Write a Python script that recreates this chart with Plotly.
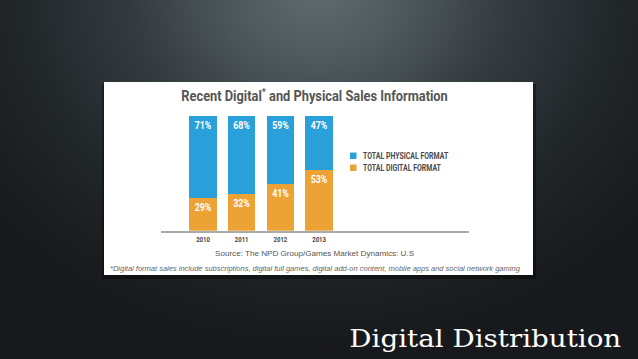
import base64
import plotly.graph_objects as go

W, H = 638, 359

years = ["2010", "2011", "2012", "2013"]
digital = [29, 32, 41, 53]
physical = [71, 68, 59, 47]
series_names = ["TOTAL PHYSICAL FORMAT", "TOTAL DIGITAL FORMAT"]
blue = "#2aa0da"
orange = "#eda236"

COND = "Roboto, Liberation Sans Narrow, DejaVu Sans Condensed, sans-serif"

def px(x):
    return x / W

def py(y):
    return 1 - y / H

x_idx = list(range(len(years)))

fig = go.Figure()
fig.add_trace(go.Bar(
    x=x_idx, y=digital, name=series_names[1], marker=dict(color=orange, line=dict(width=0)),
    text=[f"{v}%" for v in digital], textposition="inside", insidetextanchor="end",
    textangle=0, constraintext="none",
    textfont=dict(family=COND, size=11, color="white", weight="bold"),
    width=0.71, showlegend=False, hoverinfo="skip",
))
fig.add_trace(go.Bar(
    x=x_idx, y=physical, name=series_names[0], marker=dict(color=blue, line=dict(width=0)),
    text=[f"{v}%" for v in physical], textposition="inside", insidetextanchor="end",
    textangle=0, constraintext="none",
    textfont=dict(family=COND, size=11, color="white", weight="bold"),
    width=0.71, showlegend=False, hoverinfo="skip",
))

# background gradient (SVG data URI)
svg = f'''<svg xmlns="http://www.w3.org/2000/svg" width="{W}" height="{H}">
<defs><radialGradient id="g" gradientUnits="userSpaceOnUse" cx="319" cy="-10" r="420"
 gradientTransform="translate(319 -10) scale(1.0 0.85) translate(-319 10)">
<stop offset="0" stop-color="#606b6f"/>
<stop offset="0.2" stop-color="#4f595d"/>
<stop offset="0.45" stop-color="#343b3f"/>
<stop offset="0.7" stop-color="#22272a"/>
<stop offset="1" stop-color="#17191c"/>
</radialGradient></defs>
<rect width="{W}" height="{H}" fill="url(#g)"/>
</svg>'''
src = "data:image/svg+xml;base64," + base64.b64encode(svg.encode()).decode()

shapes = [
    dict(type="rect", xref="paper", yref="paper", x0=px(102), x1=px(536), y0=py(279), y1=py(84),
         fillcolor="rgba(0,0,0,0.35)", line=dict(width=0), layer="below"),
    dict(type="rect", xref="paper", yref="paper", x0=px(104), x1=px(533), y0=py(275), y1=py(82),
         fillcolor="white", line=dict(width=0), layer="below"),
    dict(type="rect", xref="paper", yref="paper", x0=px(350), x1=px(356.5), y0=py(159), y1=py(152.5),
         fillcolor=blue, line=dict(width=0)),
    dict(type="rect", xref="paper", yref="paper", x0=px(350), x1=px(356.5), y0=py(171), y1=py(164.5),
         fillcolor=orange, line=dict(width=0)),
]

annotations = [
    dict(text="Recent Digital<sup>*</sup> and Physical Sales Information", x=px(314.5), y=py(95),
         xref="paper", yref="paper", showarrow=False, xanchor="center", yanchor="middle",
         font=dict(family=COND, size=14, color="#555555", weight="bold")),
    dict(text=series_names[0], x=px(361), y=py(156), xref="paper", yref="paper", showarrow=False,
         xanchor="left", yanchor="middle", font=dict(family=COND, size=9, color="#4a4a4a", weight="bold")),
    dict(text=series_names[1], x=px(361), y=py(168), xref="paper", yref="paper", showarrow=False,
         xanchor="left", yanchor="middle", font=dict(family=COND, size=9, color="#4a4a4a", weight="bold")),
    dict(text="Source: The NPD Group/Games Market Dynamics: U.S", x=px(315), y=py(253),
         xref="paper", yref="paper", showarrow=False, xanchor="center", yanchor="middle",
         font=dict(family="Liberation Sans, Arial, sans-serif", size=8.1, color="#555555")),
    dict(text="<i>*Digital format sales include subscriptions, digital full games, digital add-on content, mobile apps and social network gaming</i>",
         x=px(108), y=py(268.5), xref="paper", yref="paper", showarrow=False, xanchor="left", yanchor="middle",
         font=dict(family="Liberation Sans, Arial, sans-serif", size=7.5, color="#666666")),
    dict(text="Digital Distribution", x=px(623), y=py(339), xref="paper", yref="paper", showarrow=False,
         xanchor="right", yanchor="middle",
         font=dict(family="DejaVu Serif, Liberation Serif, serif", size=24, color="white")),
]

fig.update_layout(
    width=W, height=H, margin=dict(l=0, r=0, t=0, b=0),
    paper_bgcolor="#1e2226", plot_bgcolor="rgba(0,0,0,0)",
    barmode="stack", bargap=0, hovermode=False,
    showlegend=False,
    images=[dict(source=src, xref="paper", yref="paper", x=0, y=1, sizex=1, sizey=1,
                 sizing="stretch", xanchor="left", yanchor="top", layer="below")],
    shapes=shapes, annotations=annotations,
    xaxis=dict(domain=[px(161), px(469)], range=[-1.085, 6.876], tickvals=x_idx, ticktext=years,
               showgrid=False, zeroline=False, showline=True, linecolor="#aaaaaa", linewidth=1.5,
               ticks="", tickfont=dict(family=COND, size=8, color="#444444", weight="bold"),
               fixedrange=True),
    yaxis=dict(domain=[py(230.7), py(115.7)], range=[0, 100], visible=False, fixedrange=True),
)

post = """
document.body.style.margin = '0';
var gd = document.getElementById('{plot_id}');
function sx(el, s, mode) {
  var b = el.getBBox();
  var ax = mode === 'left' ? b.x : (mode === 'right' ? b.x + b.width : b.x + b.width / 2);
  var t = el.getAttribute('transform') || '';
  el.setAttribute('transform', t + ' translate(' + ax + ',0) scale(' + s + ',1) translate(' + (-ax) + ',0)');
}
var targets = {'0': [267, 'middle'], '1': [85.7, 'left'], '2': [78.3, 'left'], '5': [272, 'right']};
gd.querySelectorAll('g.annotation').forEach(function (g) {
  var i = g.getAttribute('data-index');
  if (targets[i]) {
    var t = g.querySelector('text.annotation-text');
    var w = t.getBBox().width;
    if (w > 0) sx(t, targets[i][0] / w, targets[i][1]);
  }
});
gd.querySelectorAll('text.bartext').forEach(function (t) { sx(t, 0.8, 'middle'); });
gd.querySelectorAll('g.xtick text').forEach(function (t) { sx(t, 0.75, 'middle'); });
"""

fig.write_html("out.html", config={"displayModeBar": False}, post_script=post)
